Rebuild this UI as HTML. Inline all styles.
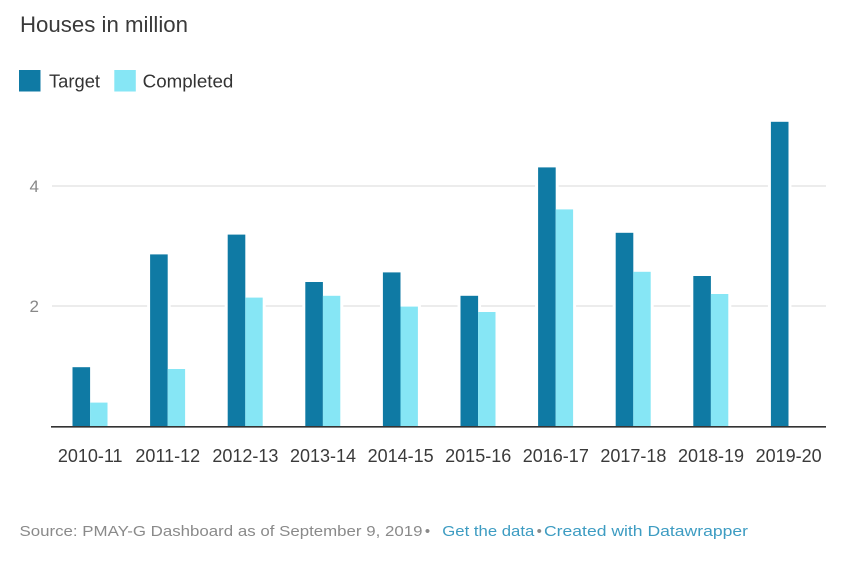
<!DOCTYPE html>
<html>
<head>
<meta charset="utf-8">
<style>
  html, body { margin:0; padding:0; background:#fff; }
  svg { display:block; }
  text { font-family: "Liberation Sans", Arial, sans-serif; }
</style>
</head>
<body>
<svg width="850" height="567" viewBox="0 0 850 567" xmlns="http://www.w3.org/2000/svg">
  <rect width="850" height="567" fill="#fff"/>
  <!-- Title -->
  <text x="20" y="32" font-size="22" fill="#3a3a3a" textLength="168" lengthAdjust="spacingAndGlyphs">Houses in million</text>
  <!-- Legend -->
  <rect x="19" y="70" width="21.5" height="21.5" fill="#0f7aa4"/>
  <text x="49" y="87.5" font-size="18" fill="#333" textLength="51" lengthAdjust="spacingAndGlyphs">Target</text>
  <rect x="114.3" y="70" width="21.5" height="21.5" fill="#86e6f5"/>
  <text x="142.7" y="87.5" font-size="18" fill="#333" textLength="90.6" lengthAdjust="spacingAndGlyphs">Completed</text>

  <!-- Gridlines -->
  <line x1="52" y1="186" x2="826" y2="186" stroke="#e0e0e0" stroke-width="1.2"/>
  <line x1="52" y1="306" x2="826" y2="306" stroke="#e0e0e0" stroke-width="1.2"/>
  <text x="39" y="192" font-size="17" fill="#888" text-anchor="end">4</text>
  <text x="39" y="312" font-size="17" fill="#888" text-anchor="end">2</text>

  <!-- white halos behind bars (gridline gaps) -->
  <g fill="#fff">
    <rect x="69.5" y="364.2" width="23.6" height="62"/>
    <rect x="147.1" y="251.4" width="23.6" height="175"/>
    <rect x="224.7" y="231.6" width="23.6" height="195"/>
    <rect x="302.3" y="279" width="23.6" height="147"/>
    <rect x="379.9" y="269.4" width="23.6" height="157"/>
    <rect x="457.5" y="292.8" width="23.6" height="133"/>
    <rect x="535.1" y="164.4" width="23.6" height="262"/>
    <rect x="612.7" y="229.8" width="23.6" height="196"/>
    <rect x="690.3" y="273" width="23.6" height="153"/>
    <rect x="767.9" y="118.8" width="23.6" height="307"/>
    <rect x="87.1" y="399.6" width="23.4" height="27"/>
    <rect x="164.7" y="366" width="23.4" height="60"/>
    <rect x="242.3" y="294.6" width="23.4" height="131"/>
    <rect x="319.9" y="292.8" width="23.4" height="133"/>
    <rect x="397.5" y="303.6" width="23.4" height="122"/>
    <rect x="475.1" y="309" width="23.4" height="117"/>
    <rect x="552.7" y="206.4" width="23.4" height="220"/>
    <rect x="630.3" y="268.8" width="23.4" height="157"/>
    <rect x="707.9" y="291" width="23.4" height="135"/>
  </g>

  <!-- Bars: Target -->
  <g fill="#0f7aa4">
    <rect x="72.5" y="367.2" width="17.6" height="59.3"/>
    <rect x="150.1" y="254.4" width="17.6" height="172.1"/>
    <rect x="227.7" y="234.6" width="17.6" height="191.9"/>
    <rect x="305.3" y="282" width="17.6" height="144.5"/>
    <rect x="382.9" y="272.4" width="17.6" height="154.1"/>
    <rect x="460.5" y="295.8" width="17.6" height="130.7"/>
    <rect x="538.1" y="167.4" width="17.6" height="259.1"/>
    <rect x="615.7" y="232.8" width="17.6" height="193.7"/>
    <rect x="693.3" y="276" width="17.6" height="150.5"/>
    <rect x="770.9" y="121.8" width="17.6" height="304.7"/>
  </g>
  <!-- Bars: Completed -->
  <g fill="#86e6f5">
    <rect x="90.1" y="402.6" width="17.4" height="23.9"/>
    <rect x="167.7" y="369" width="17.4" height="57.5"/>
    <rect x="245.3" y="297.6" width="17.4" height="128.9"/>
    <rect x="322.9" y="295.8" width="17.4" height="130.7"/>
    <rect x="400.5" y="306.6" width="17.4" height="119.9"/>
    <rect x="478.1" y="312" width="17.4" height="114.5"/>
    <rect x="555.7" y="209.4" width="17.4" height="217.1"/>
    <rect x="633.3" y="271.8" width="17.4" height="154.7"/>
    <rect x="710.9" y="294" width="17.4" height="132.5"/>
  </g>

  <!-- Baseline -->
  <line x1="51" y1="426.8" x2="826" y2="426.8" stroke="#333" stroke-width="1.6"/>

  <!-- X labels -->
  <g font-size="18" fill="#3a3a3a" text-anchor="middle">
    <text x="90.2" y="462">2010-11</text>
    <text x="167.8" y="462">2011-12</text>
    <text x="245.4" y="462">2012-13</text>
    <text x="323" y="462">2013-14</text>
    <text x="400.6" y="462">2014-15</text>
    <text x="478.2" y="462">2015-16</text>
    <text x="555.8" y="462">2016-17</text>
    <text x="633.4" y="462">2017-18</text>
    <text x="711" y="462">2018-19</text>
    <text x="788.6" y="462">2019-20</text>
  </g>

  <!-- Footer -->
  <text x="19.5" y="536" font-size="15" fill="#8a8a8a" textLength="403" lengthAdjust="spacingAndGlyphs">Source: PMAY-G Dashboard as of September 9, 2019</text>
  <text x="427.5" y="536" font-size="15" fill="#8a8a8a" text-anchor="middle">•</text>
  <text x="442.3" y="536" font-size="15" fill="#3d9cc2" textLength="92" lengthAdjust="spacingAndGlyphs">Get the data</text>
  <text x="539.2" y="536" font-size="15" fill="#8a8a8a" text-anchor="middle">•</text>
  <text x="544" y="536" font-size="15" fill="#3d9cc2" textLength="204" lengthAdjust="spacingAndGlyphs">Created with Datawrapper</text>
</svg>
</body>
</html>
